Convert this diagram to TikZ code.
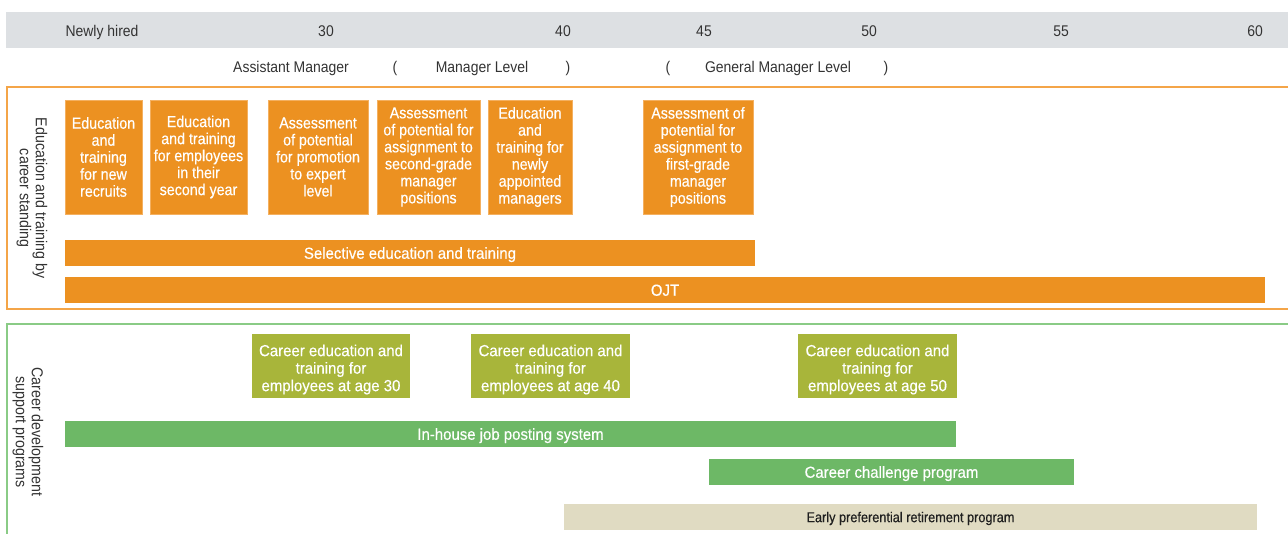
\documentclass[tikz,border=0pt]{standalone}
\usepackage{fontspec}
\setmainfont[FakeStretch=0.9]{Liberation Sans}
\newfontfamily\boxfont[FakeStretch=0.89,FakeBold=0.4]{Liberation Sans}
\newfontfamily\barfont[FakeStretch=0.935,FakeBold=0.4]{Liberation Sans}
\definecolor{bandC}{HTML}{DDE0E3}
\definecolor{orangeC}{HTML}{EC9121}
\definecolor{orangeLine}{HTML}{F4A548}
\definecolor{orangeEdge}{HTML}{F4B060}
\definecolor{oliveC}{HTML}{A8B53A}
\definecolor{greenC}{HTML}{6DB866}
\definecolor{greenLine}{HTML}{8ACB86}
\definecolor{beigeC}{HTML}{E0DBC2}
\definecolor{headText}{HTML}{333333}
\tikzset{
  hdr/.style={text=headText, font=\fontsize{15.5}{17}\selectfont, inner sep=0, text height=11pt, text depth=0pt},
  obox/.style={fill=orangeC, draw=orangeEdge, line width=0.8pt, text=white, align=center, inner sep=0, minimum height=114pt, font=\boxfont\fontsize{16}{17}\selectfont},
  obar/.style={fill=orangeC, text=white, inner sep=0, minimum height=26pt, text height=11.5pt, text depth=0pt, font=\barfont\fontsize{16}{17}\selectfont},
  gbox/.style={fill=oliveC, inner sep=0, minimum height=64pt},
  gtext/.style={text=white, align=center, inner sep=0, font=\barfont\fontsize{16}{17.5}\selectfont},
  gbar/.style={fill=greenC, text=white, inner sep=0, minimum height=26pt, text height=11.5pt, text depth=0pt, font=\barfont\fontsize{16}{17}\selectfont},
  bbar/.style={fill=beigeC, text=black!88, inner sep=0, minimum height=26pt, text height=10.3pt, text depth=0pt, font=\boxfont\fontsize{14.3}{15}\selectfont},
  vlab/.style={text=headText, align=center, rotate=-90, inner sep=0, font=\fontsize{15.8}{16}\selectfont},
}
\begin{document}
\begin{tikzpicture}[x=1pt,y=-1pt]
\useasboundingbox (0,0) rectangle (1288,534);
% header band
\fill[bandC] (6,12) rectangle (1288,48);
\node[hdr] (nh) at (102,31) {Newly hired};
\node[hdr] (a30) at (326,31) {30};
\node[hdr] (a40) at (563,31) {40};
\node[hdr] (a45) at (704,31) {45};
\node[hdr] (a50) at (869,31) {50};
\node[hdr] (a55) at (1061,31) {55};
\node[hdr] (a60) at (1255,31) {60};
\node[hdr] (am) at (291,67) {Assistant Manager};
\node[hdr] (p1) at (395,67) {(};
\node[hdr] (ml) at (482,67) {Manager Level};
\node[hdr] (p2) at (568,67) {)};
\node[hdr] (p3) at (668,67) {(};
\node[hdr] (gml) at (778,67) {General Manager Level};
\node[hdr] (p4) at (886,67) {)};
% orange panel
\draw[orangeLine, line width=1.5pt] (1288,87) -- (7,87) -- (7,309) -- (1288,309);
\node[vlab] (lab1) at (32,198) {Education and training by\\career standing};
\node[obox, minimum width=77pt] (b1) at (103.5,157) {Education\\and\\training\\for new\\recruits};
\node[obox, minimum width=97pt] (b2) at (198.5,157) {Education\\and training\\for employees\\in their\\second year};
\node[obox, minimum width=100pt] (b3) at (318,157) {Assessment\\of potential\\for promotion\\to expert\\level};
\node[obox, minimum width=103pt] (b4) at (428.5,157) {Assessment\\of potential for\\assignment to\\second-grade\\manager\\positions};
\node[obox, minimum width=84pt] (b5) at (530,157) {Education\\and\\training for\\newly\\appointed\\managers};
\node[obox, minimum width=110pt] (b6) at (698,157) {Assessment of\\potential for\\assignment to\\first-grade\\manager\\positions};
\node[obar, minimum width=690pt] (sel) at (410,253) {Selective education and training};
\node[obar, minimum width=1200pt] (ojt) at (665,290) {OJT};
% green panel
\draw[greenLine, line width=1.5pt] (1288,324) -- (7,324) -- (7,534);
\node[vlab] (lab2) at (28,432) {Career development\\support programs};
\node[gbox, minimum width=158pt] (c30) at (331,366) {};
\node[gbox, minimum width=159pt] (c40) at (550.5,366) {};
\node[gbox, minimum width=159pt] (c50) at (877.5,366) {};
\node[gtext] (c30t) at ([yshift=-3.5pt]c30.center) {Career education and\\training for\\employees at age 30};
\node[gtext] (c40t) at ([yshift=-3.5pt]c40.center) {Career education and\\training for\\employees at age 40};
\node[gtext] (c50t) at ([yshift=-3.5pt]c50.center) {Career education and\\training for\\employees at age 50};
\node[gbar, minimum width=891pt] (job) at (510.5,434) {In-house job posting system};
\node[gbar, minimum width=365pt] (chal) at (891.5,472) {Career challenge program};
\node[bbar, minimum width=693pt] (early) at (910.5,517) {Early preferential retirement program};
\end{tikzpicture}
\end{document}
